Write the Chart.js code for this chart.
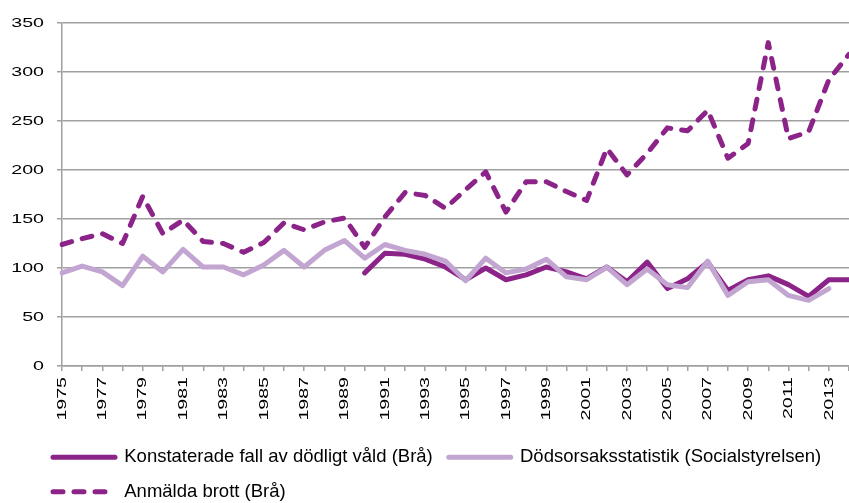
<!DOCTYPE html>
<html lang="sv">
<head>
   <meta charset="UTF-8">
   <title>Dödligt våld 1975-2014</title>
   <style>
      body { margin: 0; background: #fff; }
      .chart-wrapper { width: 849px; height: 503px; }
   </style>
</head>
<body>
   <div class="chart-wrapper">
      <canvas id="valdChart"></canvas>
   </div>

   <script src="https://cdn.jsdelivr.net/npm/chart.js@4.4.1/dist/chart.umd.min.js"></script>
   <script>
      // years on the x axis
      let years = [];
      for (let y = 1975; y <= 2014; y++) years.push(String(y));

      // Konstaterade fall av dödligt våld (Brå), series starts 1990
      let konstaterade = [null, null, null, null, null, null, null, null, null, null,
         null, null, null, null, null, 95, 115, 114, 109, 101,
         88, 100, 88, 93, 101, 96, 89, 101, 86, 106,
         79, 89, 106, 77, 88, 92, 83, 71, 88, 88];

      // Dödsorsaksstatistik (Socialstyrelsen), ends 2013
      let dodsorsak = [95, 102, 96, 82, 112, 96, 119, 101, 101, 93,
         103, 118, 101, 118, 128, 110, 124, 118, 114, 107,
         87, 110, 95, 99, 109, 91, 88, 101, 83, 99,
         83, 80, 107, 72, 86, 88, 72, 67, 79, null];

      // Anmälda brott (Brå)
      let anmalda = [124, 130, 135, 125, 173, 135, 149, 127, 125, 116,
         126, 146, 139, 147, 151, 121, 152, 177, 174, 161,
         180, 198, 157, 188, 188, 178, 169, 222, 195, 217,
         243, 240, 261, 212, 227, 330, 232, 239, 292, 318];

      let seriesNames = ['Konstaterade fall av dödligt våld (Brå)',
         'Dödsorsaksstatistik (Socialstyrelsen)',
         'Anmälda brott (Brå)'];

      let yTicks = { min: 0, max: 350, step: 50 };

      const dark = '#8b2388';
      const light = '#c2a5d0';
      const grey = '#a0a0a0';
      const fontFamily = "'Liberation Sans', Arial, sans-serif";
      const stretch = 1.45;   // axis numbers in the original are drawn wide

      // stretch the axis labels along the text direction,
      // and indent the legend further than the y axis labels
      const tweaks = {
         id: 'tweaks',
         afterLayout(chart) {
            ['x', 'y'].forEach(id => {
               const s = chart.scales[id];
               if (!s || s._wide) return;
               const draw = s.drawLabels;
               s.drawLabels = function (area) {
                  const ctx = this.ctx;
                  const gap = this.options.grid.tickLength + this.options.ticks.padding;
                  ctx.save();
                  if (this.axis === 'x') {
                     const ay = this.top + gap;
                     ctx.translate(0, ay);
                     ctx.scale(1, stretch);
                     ctx.translate(0, -ay);
                  } else {
                     const ax = this.right - gap;
                     ctx.translate(ax, 0);
                     ctx.scale(stretch, 1);
                     ctx.translate(-ax, 0);
                  }
                  draw.call(this, area);
                  ctx.restore();
               };
               s._wide = true;
            });
            if (chart.legend) chart.legend.left = 37;
         }
      };

      let context = document.getElementById('valdChart').getContext('2d');
      let myChart = new Chart(context, {
         type: 'line',
         data: {
            labels: years,
            datasets: [
               {
                  label: seriesNames[0],
                  data: konstaterade,
                  borderColor: dark,
                  backgroundColor: dark,
                  borderWidth: 5,
                  borderCapStyle: 'round',
                  borderJoinStyle: 'round',
                  pointRadius: 0,
                  order: 1
               },
               {
                  label: seriesNames[1],
                  data: dodsorsak,
                  borderColor: light,
                  backgroundColor: light,
                  borderWidth: 5,
                  borderCapStyle: 'round',
                  borderJoinStyle: 'round',
                  pointRadius: 0,
                  order: 0
               },
               {
                  label: seriesNames[2],
                  data: anmalda,
                  borderColor: dark,
                  backgroundColor: dark,
                  borderWidth: 5,
                  borderDash: [10, 11],
                  borderCapStyle: 'round',
                  borderJoinStyle: 'round',
                  pointRadius: 0,
                  order: 2
               }
            ]
         },
         plugins: [tweaks],
         options: {
            responsive: true,
            maintainAspectRatio: false,
            animation: false,
            layout: {
               padding: { top: 23, left: 0, right: 0, bottom: -8 }
            },
            plugins: {
               tooltip: { enabled: false },
               legend: {
                  position: 'bottom',
                  align: 'start',
                  labels: {
                     usePointStyle: true,
                     pointStyle: 'line',
                     pointStyleWidth: 62,
                     padding: 16,
                     color: '#000',
                     font: { family: fontFamily, size: 18.5 },
                     sort: (a, b) => a.datasetIndex - b.datasetIndex,
                     generateLabels: function (chart) {
                        const items = Chart.defaults.plugins.legend.labels.generateLabels(chart);
                        items.forEach(item => {
                           const ds = chart.data.datasets[item.datasetIndex];
                           item.lineDash = ds.borderDash || [];
                           item.lineWidth = ds.borderWidth;
                           item.lineCap = 'round';
                           item.strokeStyle = ds.borderColor;
                        });
                        return items;
                     }
                  }
               }
            },
            scales: {
               x: {
                  offset: false,
                  grid: {
                     drawOnChartArea: false,
                     drawTicks: true,
                     tickLength: 5,
                     color: grey,
                     lineWidth: 1.5
                  },
                  border: { color: grey, width: 1.5 },
                  ticks: {
                     autoSkip: false,
                     minRotation: 90,
                     maxRotation: 90,
                     padding: 6,
                     color: '#000',
                     font: { family: fontFamily, size: 13.5 },
                     callback: function (value, index) {
                        return index % 2 === 0 ? years[index] : '';
                     }
                  },
                  afterFit: function (scale) {
                     scale.height = 66;
                     scale.paddingLeft = 0;
                     scale.paddingRight = 0;
                  }
               },
               y: {
                  min: yTicks.min,
                  max: yTicks.max,
                  grid: {
                     color: grey,
                     lineWidth: 1.5,
                     tickLength: 5
                  },
                  border: { color: grey, width: 1.5 },
                  ticks: {
                     stepSize: yTicks.step,
                     padding: 13,
                     color: '#000',
                     font: { family: fontFamily, size: 13.5 }
                  },
                  afterFit: function (scale) {
                     scale.width = 62;
                  }
               }
            }
         }
      });
   </script>
</body>
</html>
